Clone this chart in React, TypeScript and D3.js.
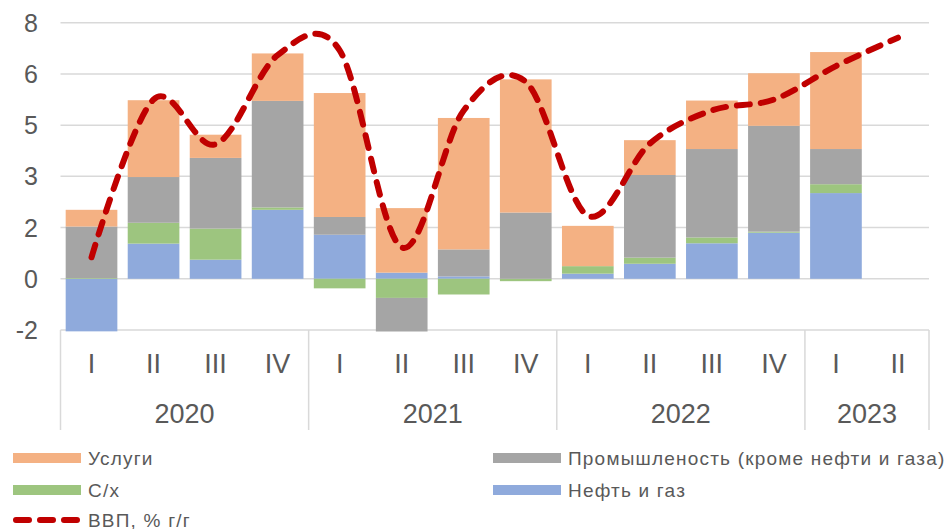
import React, { useEffect, useRef } from 'react'
import * as d3 from 'd3'

// quarters and years
const quarters = ['I', 'II', 'III', 'IV', 'I', 'II', 'III', 'IV', 'I', 'II', 'III', 'IV', 'I', 'II']
const years = ['2020', '2021', '2022', '2023']
const yearSpans = [4, 4, 4, 2]

// contributions, p.p.
const oilGas = [-1.55, 1.03, 0.56, 2.02, 1.29, 0.18, 0.07, 0.0, 0.15, 0.44, 1.04, 1.35, 2.51, 0]
const agri = [0.02, 0.61, 0.91, 0.07, -0.28, -0.56, -0.46, -0.07, 0.22, 0.18, 0.17, 0.03, 0.26, 0]
const industry = [1.51, 1.34, 2.07, 3.12, 0.52, -1.01, 0.79, 1.94, 0.0, 2.42, 2.59, 3.1, 1.03, 0]
const services = [0.49, 2.25, 0.68, 1.39, 3.63, 1.89, 3.85, 3.9, 1.18, 1.02, 1.42, 1.54, 2.84, 0]
const gdp = [0.63, 5.25, 3.94, 6.55, 6.69, 0.92, 4.93, 5.77, 1.85, 3.96, 4.93, 5.25, 6.23, 7.06]

const tickValues = [-1.5, 0, 1.5, 3, 4.5, 6, 7.5]
const tickLabels = ['-2', '0', '2', '3', '5', '6', '8']

const seriesKeys = ['oil', 'agri', 'ind', 'serv']
const seriesNames = ['Нефть и газ', 'С/х', 'Промышленость (кроме нефти и газа)', 'Услуги']
const colors = ['#8FAADC', '#9DC57F', '#A5A5A5', '#F4B183']

export default function App() {
  const ref = useRef<SVGSVGElement>(null)

  useEffect(() => {
    const width = 948
    const height = 529
    const left = 60.5
    const right = 929
    const top = 22.7
    const bottom = 330

    const svg = d3.select(ref.current)
    svg.selectAll('*').remove()

    const x = d3.scaleBand<number>()
      .domain(d3.range(quarters.length))
      .range([left, right])
      .paddingInner(0.167)
      .paddingOuter(0.0835)
    const step = x.step()

    const y = d3.scaleLinear().domain([-1.5, 7.5]).range([bottom, top])

    const font = "'Liberation Sans', Arial, sans-serif"
    const textColor = '#595959'

    // grid
    svg.append('g')
      .selectAll('line')
      .data(tickValues)
      .enter()
      .append('line')
      .attr('x1', left)
      .attr('x2', right)
      .attr('y1', d => y(d))
      .attr('y2', d => y(d))
      .attr('stroke', '#d9d9d9')
      .attr('stroke-width', 1.5)

    svg.append('g')
      .selectAll('text')
      .data(tickValues)
      .enter()
      .append('text')
      .attr('x', 38)
      .attr('y', d => y(d))
      .attr('dy', '0.36em')
      .attr('text-anchor', 'end')
      .attr('font-family', font)
      .attr('font-size', 25)
      .attr('fill', textColor)
      .text((d, i) => tickLabels[i])

    // stacked bars
    const table = quarters.map((q, i) => ({
      oil: oilGas[i], agri: agri[i], ind: industry[i], serv: services[i],
    }))
    const stack = d3.stack<any>().keys(seriesKeys).offset(d3.stackOffsetDiverging)
    const layers = stack(table)

    svg.append('clipPath')
      .attr('id', 'plot-clip')
      .append('rect')
      .attr('x', left)
      .attr('y', 0)
      .attr('width', right - left)
      .attr('height', bottom + 1.5)

    const bars = svg.append('g').attr('clip-path', 'url(#plot-clip)')
    layers.forEach((layer, li) => {
      bars.append('g')
        .attr('fill', colors[li])
        .selectAll('rect')
        .data(layer)
        .enter()
        .append('rect')
        .attr('x', (d, i) => x(i)!)
        .attr('width', x.bandwidth())
        .attr('y', d => y(Math.max(d[0], d[1])))
        .attr('height', d => Math.abs(y(d[0]) - y(d[1])))
    })

    // GDP line
    const line = d3.line<number>()
      .x((d, i) => x(i)! + x.bandwidth() / 2)
      .y(d => y(d))
      .curve(d3.curveCatmullRom.alpha(0))

    svg.append('path')
      .datum(gdp)
      .attr('d', line)
      .attr('fill', 'none')
      .attr('stroke', '#C00000')
      .attr('stroke-width', 6)
      .attr('stroke-linecap', 'round')
      .attr('stroke-dasharray', '13 11')

    // category axis
    const boundaries = [0]
    yearSpans.forEach(s => boundaries.push(boundaries[boundaries.length - 1] + s))
    svg.append('g')
      .selectAll('line')
      .data(boundaries)
      .enter()
      .append('line')
      .attr('x1', d => left + d * step)
      .attr('x2', d => left + d * step)
      .attr('y1', bottom)
      .attr('y2', 430)
      .attr('stroke', '#d9d9d9')
      .attr('stroke-width', 1.5)

    svg.append('g')
      .selectAll('text')
      .data(quarters)
      .enter()
      .append('text')
      .attr('x', (d, i) => x(i)! + x.bandwidth() / 2)
      .attr('y', 363)
      .attr('dy', '0.36em')
      .attr('text-anchor', 'middle')
      .attr('font-family', font)
      .attr('font-size', 27)
      .attr('fill', textColor)
      .text(d => d)

    svg.append('g')
      .selectAll('text')
      .data(years)
      .enter()
      .append('text')
      .attr('x', (d, i) => left + (boundaries[i] + boundaries[i + 1]) / 2 * step)
      .attr('y', 413)
      .attr('dy', '0.36em')
      .attr('text-anchor', 'middle')
      .attr('font-family', font)
      .attr('font-size', 27)
      .attr('fill', textColor)
      .text(d => d)

    // legend
    const legend = [
      { name: seriesNames[3], color: colors[3], x: 13, y: 458 },
      { name: seriesNames[2], color: colors[2], x: 493, y: 458 },
      { name: seriesNames[1], color: colors[1], x: 13, y: 490 },
      { name: seriesNames[0], color: colors[0], x: 493, y: 490 },
    ]
    const lg = svg.append('g')
    legend.forEach(l => {
      lg.append('rect')
        .attr('x', l.x)
        .attr('y', l.y - 5)
        .attr('width', 68)
        .attr('height', 10)
        .attr('fill', l.color)
      lg.append('text')
        .attr('x', l.x + 75)
        .attr('y', l.y)
        .attr('dy', '0.36em')
        .attr('font-family', font)
        .attr('font-size', 19)
        .attr('letter-spacing', 1.2)
        .attr('fill', textColor)
        .text(l.name)
    })
    lg.append('line')
      .attr('x1', 13)
      .attr('x2', 81)
      .attr('y1', 520)
      .attr('y2', 520)
      .attr('stroke', '#C00000')
      .attr('stroke-width', 6)
      .attr('stroke-linecap', 'round')
      .attr('stroke-dasharray', '13 11')
      .attr('stroke-dashoffset', -3)
    lg.append('text')
      .attr('x', 88)
      .attr('y', 520)
      .attr('dy', '0.36em')
      .attr('font-family', font)
      .attr('font-size', 19)
      .attr('letter-spacing', 1.2)
      .attr('fill', textColor)
      .text('ВВП, % г/г')

    svg.attr('width', width).attr('height', height)
  }, [])

  return (
    <svg ref={ref} width={948} height={529} style={{ position: 'absolute', left: 0, top: 0 }} />
  )
}
